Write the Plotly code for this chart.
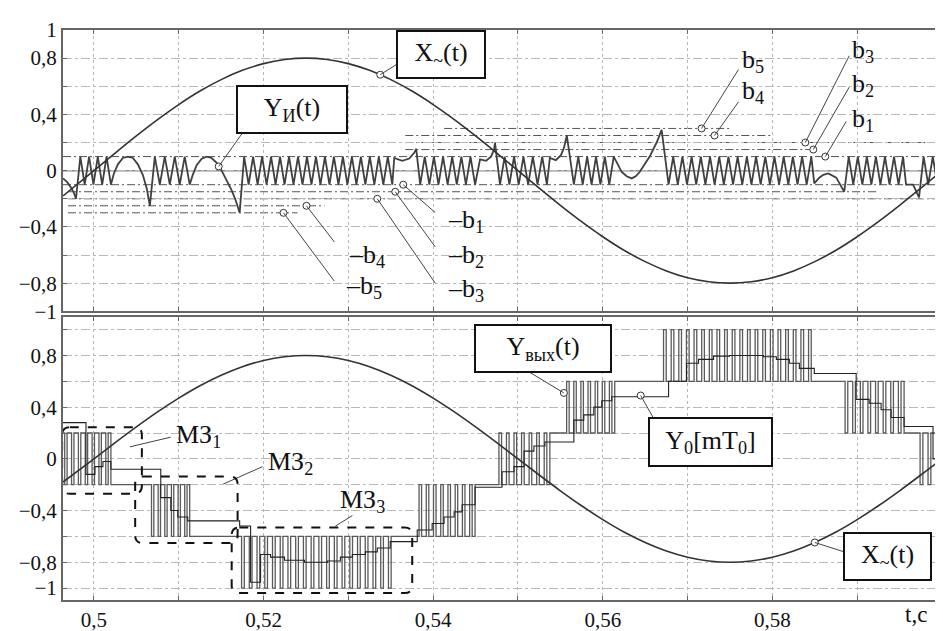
import plotly.graph_objects as go

FONT = "Liberation Serif"

# ---------------- data ----------------
# X~(t) sine
x_t = [0.49635, 0.5, 0.5025, 0.505, 0.5075, 0.51, 0.5125, 0.515, 0.5175, 0.52, 0.5225,
       0.525, 0.5275, 0.53, 0.5325, 0.535, 0.5375, 0.54, 0.5425, 0.545, 0.5475,
       0.55, 0.5525, 0.555, 0.5575, 0.56, 0.5625, 0.565, 0.5675, 0.57, 0.5725,
       0.575, 0.5775, 0.58, 0.5825, 0.585, 0.5875, 0.59, 0.5925, 0.595, 0.5975, 0.6]
x_v = [-0.18, 0.0, 0.125, 0.247, 0.363, 0.470, 0.566, 0.647, 0.713, 0.761, 0.790,
       0.800, 0.790, 0.761, 0.713, 0.647, 0.566, 0.470, 0.363, 0.247, 0.125,
       0.0, -0.125, -0.247, -0.363, -0.470, -0.566, -0.647, -0.713, -0.761, -0.790,
       -0.800, -0.790, -0.761, -0.713, -0.647, -0.566, -0.470, -0.363, -0.247, -0.125, 0.0]

# Y_И(t): irregular parts (events) and runs of teeth between +b1 and -b1
b1 = 0.1
e0_t = [0.49635, 0.49682, 0.49729, 0.49765, 0.49788]
e0_y = [-0.055, -0.08, -0.12, -0.16, -0.2]
a1_t = [0.50200, 0.50235, 0.50282, 0.50341, 0.50400, 0.50459, 0.50518, 0.50576, 0.50624, 0.50659]
a1_y = [-0.1, -0.02, 0.045, 0.09, 0.1, 0.09, 0.045, -0.03, -0.13, -0.25]
a2_t = [0.51129, 0.51165, 0.51212, 0.51271, 0.51329, 0.51388, 0.51447, 0.51506, 0.51565, 0.51624, 0.51671, 0.51718]
a2_y = [-0.1, -0.03, 0.04, 0.085, 0.1, 0.09, 0.055, 0.0, -0.07, -0.14, -0.21, -0.3]
e3_t = [0.53518, 0.53541, 0.53635, 0.53718, 0.53776, 0.53800, 0.53847]
e3_y = [-0.1, 0.09, 0.07, 0.086, 0.127, 0.155, -0.1]
e4_t = [0.54494, 0.54553, 0.54624, 0.54682, 0.54718, 0.54729, 0.54788]
e4_y = [-0.1, 0.08, 0.07, 0.1, 0.15, 0.2, -0.1]
e5_t = [0.55341, 0.55376, 0.55447, 0.55506, 0.55541, 0.55576, 0.55659]
e5_y = [-0.1, 0.09, 0.075, 0.11, 0.16, 0.25, -0.1]
e6_t = [0.56129, 0.56176, 0.56224, 0.56282, 0.56341, 0.56388, 0.56435, 0.56482, 0.56553, 0.56635, 0.56694, 0.56776]
e6_y = [0.1, 0.04, -0.01, -0.04, -0.055, -0.04, -0.01, 0.035, 0.1, 0.2, 0.29, -0.1]
e7_t = [0.58459, 0.58494, 0.58553, 0.58600, 0.58659, 0.58753, 0.58847]
e7_y = [0.1, -0.09, -0.05, -0.03, -0.02, -0.05, -0.15]
e8_t = [0.59541, 0.59576, 0.59659, 0.59729]
e8_y = [0.1, -0.1, -0.1, -0.19]
run_t0 = [0.49788, 0.50659, 0.51718, 0.53847, 0.54788, 0.55659, 0.56776, 0.58847, 0.59729]
run_t1 = [0.50200, 0.51129, 0.53518, 0.54494, 0.55341, 0.56129, 0.58459, 0.59541, 0.60000]
run_nseg = [8, 8, 34, 12, 10, 9, 31, 13, 5]

# thresholds b1..b5 lines (level, start, end)
thr_y = [0.1, -0.1, 0.15, 0.2, 0.25, 0.3, -0.15, -0.2, -0.25, -0.3]
thr_t0 = [0.49635, 0.49635, 0.53671, 0.53671, 0.53671, 0.54129, 0.49694, 0.49694, 0.49694, 0.49694]
thr_t1 = [0.6, 0.6, 0.58518, 0.59965, 0.58012, 0.57494, 0.59224, 0.6, 0.52718, 0.52400]

# Y_вых(t): switching segments
seg_t0 = [0.49635, 0.50659, 0.51718, 0.53812, 0.54753, 0.55553, 0.56694, 0.58835, 0.59718]
seg_t1 = [0.50200, 0.51129, 0.53541, 0.54494, 0.55376, 0.56141, 0.58494, 0.59553, 0.60000]
seg_in = [0.2, -0.2, -0.6, -0.6, -0.2, 0.2, 0.6, 0.6, 0.2]
seg_other = [-0.2, -0.6, -1.0, -0.2, 0.2, 0.6, 1.0, 0.2, -0.2]
seg_out = [-0.2, -0.6, -0.6, -0.2, 0.2, 0.6, 0.6, 0.2, 0.2]
seg_n = [7, 6, 20, 8, 7, 7, 20, 8, 3]

# Y0[mT0] staircase
y0_t = [0.49635, 0.49906, 0.50012, 0.50106, 0.50200, 0.50788, 0.50906, 0.50988, 0.51106, 0.51718,
        0.51847, 0.51965, 0.52082, 0.52247, 0.52482, 0.52753, 0.52906, 0.53047, 0.53200, 0.53341,
        0.53494, 0.53812, 0.53988, 0.54129, 0.54247, 0.54341, 0.54494, 0.54812, 0.54953, 0.55071,
        0.55188, 0.55318, 0.55659, 0.55776, 0.55894, 0.55988, 0.56106, 0.56776, 0.56988, 0.57129,
        0.57306, 0.57494, 0.57894, 0.58047, 0.58200, 0.58318, 0.58494, 0.58988, 0.59141, 0.59282,
        0.59400, 0.59553, 0.59894, 0.60000]
y0_v = [0.28, -0.12, -0.06, -0.02, -0.08, -0.3, -0.4, -0.45, -0.48, -0.52,
        -0.955, -0.74, -0.76, -0.785, -0.8, -0.79, -0.76, -0.74, -0.72, -0.69,
        -0.64, -0.55, -0.5, -0.45, -0.41, -0.355, -0.22, -0.1, -0.06, 0.06,
        0.1, 0.13, 0.3, 0.34, 0.4, 0.45, 0.48, 0.6, 0.74, 0.77,
        0.795, 0.8, 0.79, 0.77, 0.74, 0.70, 0.66, 0.46, 0.43, 0.38,
        0.32, 0.25, 0.0, 0.0]

# MЗ dashed zones
mz_t0 = [0.49625, 0.50486, 0.51624]
mz_t1 = [0.50565, 0.51694, 0.53753]
mz_y0 = [-0.27, -0.651, -1.038]
mz_y1 = [0.245, -0.137, -0.532]

# ---------------- build Y_И ----------------
events = [(e0_t, e0_y), (a1_t, a1_y), (a2_t, a2_y), (e3_t, e3_y), (e4_t, e4_y),
          (e5_t, e5_y), (e6_t, e6_y), (e7_t, e7_y), (e8_t, e8_y)]
yi_t, yi_y = [], []
for k in range(len(run_t0)):
    et, ey = events[k]
    yi_t += et
    yi_y += ey
    n = run_nseg[k]
    last = n if k == len(run_t0) - 1 else n - 1
    for i in range(1, last + 1):
        yi_t.append(run_t0[k] + i * (run_t1[k] - run_t0[k]) / n)
        yi_y.append(b1 if i % 2 == 1 else -b1)

# ---------------- build Y_вых ----------------
yv_t, yv_y = [], []
for k in range(len(seg_t0)):
    t0, t1, n = seg_t0[k], seg_t1[k], seg_n[k]
    p = (t1 - t0) / n
    yv_t.append(t0); yv_y.append(seg_in[k])
    for j in range(n):
        yv_t.append(t0 + (j + 0.25) * p); yv_y.append(seg_other[k])
        yv_t.append(t0 + (j + 0.6) * p); yv_y.append(seg_in[k])
    yv_t.append(t1); yv_y.append(seg_out[k])

fig = go.Figure()
# top panel
fig.add_trace(go.Scatter(x=yi_t, y=yi_y, mode="lines", line=dict(color="#404040", width=1.8),
                         xaxis="x", yaxis="y", showlegend=False))
fig.add_trace(go.Scatter(x=x_t, y=x_v, mode="lines", line=dict(color="#333", width=1.6, shape="spline"),
                         xaxis="x", yaxis="y", showlegend=False))
# bottom panel
fig.add_trace(go.Scatter(x=yv_t, y=yv_y, mode="lines", line=dict(color="#5a5a5a", width=1.3, shape="hv"),
                         xaxis="x2", yaxis="y2", showlegend=False))
fig.add_trace(go.Scatter(x=y0_t, y=y0_v, mode="lines", line=dict(color="#222", width=1.1, shape="hv"),
                         xaxis="x2", yaxis="y2", showlegend=False))
fig.add_trace(go.Scatter(x=x_t, y=x_v, mode="lines", line=dict(color="#333", width=1.6, shape="spline"),
                         xaxis="x2", yaxis="y2", showlegend=False))

shapes = []
for yv, a, b in zip(thr_y, thr_t0, thr_t1):
    shapes.append(dict(type="line", xref="x", yref="y", x0=a, x1=b, y0=yv, y1=yv,
                       line=dict(color="#555", width=1, dash="8px,3px,2px,3px"), layer="below"))

# leader lines top: (circle t, circle y, end t, end y)
lead_top = [(0.53376, 0.682, 0.53694, 0.803), (0.51471, 0.03, 0.51847, 0.349),
            (0.57165, 0.3, 0.576, 0.719), (0.57318, 0.25, 0.576, 0.489),
            (0.58388, 0.2, 0.58906, 0.817), (0.58482, 0.15, 0.58906, 0.594),
            (0.58624, 0.1, 0.58871, 0.35), (0.53647, -0.1, 0.54024, -0.298),
            (0.53553, -0.15, 0.54024, -0.542), (0.53341, -0.2, 0.54024, -0.8),
            (0.52506, -0.25, 0.52835, -0.507), (0.52235, -0.3, 0.52835, -0.786)]
lead_bot = [(0.55541, 0.51, 0.55024, 0.715), (0.56447, 0.49, 0.56659, 0.244),
            (0.585, -0.647, 0.58953, -0.742)]
lead_mz = [(0.50424, 0.093, 0.50906, 0.168), (0.51518, -0.197, 0.51988, -0.06),
           (0.52847, -0.52, 0.53047, -0.439)]
for a, b, c, d in lead_top:
    shapes.append(dict(type="line", xref="x", yref="y", x0=a, y0=b, x1=c, y1=d,
                       line=dict(color="#444", width=1)))
for a, b, c, d in lead_bot + lead_mz:
    shapes.append(dict(type="line", xref="x2", yref="y2", x0=a, y0=b, x1=c, y1=d,
                       line=dict(color="#444", width=1)))

rx, ry = 0.0009, 0.06
for a, b, c, d in zip(mz_t0, mz_t1, mz_y0, mz_y1):
    path = (f"M {a+rx},{d} L {b-rx},{d} Q {b},{d} {b},{d-ry} L {b},{c+ry} Q {b},{c} {b-rx},{c} "
            f"L {a+rx},{c} Q {a},{c} {a},{c+ry} L {a},{d-ry} Q {a},{d} {a+rx},{d} Z")
    shapes.append(dict(type="path", xref="x2", yref="y2", path=path,
                       line=dict(color="#111", width=2, dash="dash")))

fig.add_trace(go.Scatter(x=[l[0] for l in lead_top], y=[l[1] for l in lead_top], mode="markers",
                         marker=dict(symbol="circle", size=7, color="white", line=dict(color="#333", width=1)),
                         xaxis="x", yaxis="y", showlegend=False))
fig.add_trace(go.Scatter(x=[l[0] for l in lead_bot], y=[l[1] for l in lead_bot], mode="markers",
                         marker=dict(symbol="circle", size=7, color="white", line=dict(color="#333", width=1)),
                         xaxis="x2", yaxis="y2", showlegend=False))

ann = []
def box(text, x, y, w, h, xr, yr):
    ann.append(dict(text=text, x=x, y=y, xref=xr, yref=yr, showarrow=False,
                    font=dict(family=FONT, size=26, color="#111"), bgcolor="white",
                    bordercolor="#111", borderwidth=2, borderpad=0, width=w, height=h,
                    xanchor="center", yanchor="middle"))
def lab(text, x, y, xr, yr, size=26):
    ann.append(dict(text=text, x=x, y=y, xref=xr, yref=yr, showarrow=False,
                    font=dict(family=FONT, size=size, color="#111"), xanchor="center", yanchor="middle"))

box("X<sub>~</sub>(t)", 0.54094, 0.827, 86, 45, "x", "y")
box("Y<sub>И</sub>(t)", 0.52341, 0.437, 108, 45, "x", "y")
box("Y<sub>вых</sub>(t)", 0.55294, 0.855, 134, 45, "x2", "y2")
box("Y<sub>0</sub>[mT<sub>0</sub>]", 0.57276, 0.13, 121, 46, "x2", "y2")
box("X<sub>~</sub>(t)", 0.59359, -0.753, 85, 45, "x2", "y2")
lab("b<sub>5</sub>", 0.57776, 0.782, "x", "y")
lab("b<sub>4</sub>", 0.57776, 0.559, "x", "y")
lab("b<sub>3</sub>", 0.59071, 0.852, "x", "y")
lab("b<sub>2</sub>", 0.59071, 0.608, "x", "y")
lab("b<sub>1</sub>", 0.59071, 0.357, "x", "y")
lab("–b<sub>1</sub>", 0.54388, -0.361, "x", "y")
lab("–b<sub>2</sub>", 0.54388, -0.605, "x", "y")
lab("–b<sub>3</sub>", 0.54388, -0.849, "x", "y")
lab("–b<sub>4</sub>", 0.53224, -0.605, "x", "y")
lab("–b<sub>5</sub>", 0.53188, -0.828, "x", "y")
lab("МЗ<sub>1</sub>", 0.51235, 0.18, "x2", "y2")
lab("МЗ<sub>2</sub>", 0.52318, -0.03, "x2", "y2")
lab("МЗ<sub>3</sub>", 0.53165, -0.325, "x2", "y2")
lab("t,c", 0.97, -0.026, "paper", "paper", size=23)

xticks = [0.5, 0.51, 0.52, 0.53, 0.54, 0.55, 0.56, 0.57, 0.58, 0.59]
xtext = ["0,5", "", "0,52", "", "0,54", "", "0,56", "", "0,58", ""]
yticks = [-1, -0.8, -0.6, -0.4, -0.2, 0, 0.2, 0.4, 0.6, 0.8, 1]
ytext_top = ["−1", "−0,8", "", "−0,4", "", "0", "", "0,4", "", "0,8", "1"]
ytext_bot = ["−1", "−0,8", "", "−0,4", "", "0", "", "0,4", "", "0,8", ""]

axis_common = dict(showline=True, linecolor="#666", linewidth=2, mirror="ticks", ticks="inside",
                   ticklen=4, tickcolor="#666", showgrid=True, gridcolor="#b8b8b8", gridwidth=1,
                   tickfont=dict(family=FONT, size=21, color="#111"), zeroline=False)
fig.update_layout(
    width=943, height=631, margin=dict(l=55, r=7, t=22, b=28),
    paper_bgcolor="white", plot_bgcolor="white",
    font=dict(family=FONT),
    xaxis=dict(domain=[0, 1], anchor="y", range=[0.49635, 0.6], tickvals=xticks,
               showticklabels=False, griddash="dot", **axis_common),
    xaxis2=dict(domain=[0, 1], anchor="y2", range=[0.49635, 0.6], tickvals=xticks, ticktext=xtext,
                griddash="dot", matches="x", **axis_common),
    yaxis=dict(domain=[0.5065, 1], anchor="x", range=[-1, 1], tickvals=yticks, ticktext=ytext_top,
               griddash="dashdot", **axis_common),
    yaxis2=dict(domain=[0, 0.4957], anchor="x2", range=[-1.092, 1.094], tickvals=yticks,
                ticktext=ytext_bot, griddash="dashdot", **axis_common),
    shapes=shapes + [dict(type="line", xref="paper", yref="y", x0=0, x1=1.005, y0=0, y1=0,
                          line=dict(color="#888", width=1.5), layer="below")],
    annotations=ann,
)
fig.write_html("out.html")
